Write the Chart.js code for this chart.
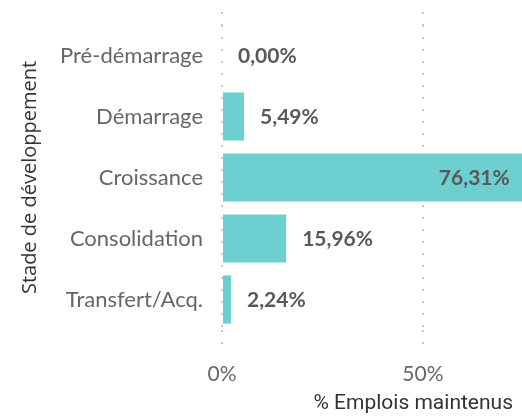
<!DOCTYPE html>
<html>
<head>
<meta charset="utf-8">
<script src="https://cdn.jsdelivr.net/npm/chart.js@4"></script>
<style>
  html, body { margin: 0; padding: 0; background: #fff; overflow: hidden; }
  .wrap { width: 522px; height: 416px; position: relative; }
</style>
</head>
<body>
<div class="wrap"><canvas id="chart"></canvas></div>
<script>
// data
const stades = ["Pré-démarrage", "Démarrage", "Croissance", "Consolidation", "Transfert/Acq."];
const emplois = [0.00, 5.49, 76.31, 15.96, 2.24];
const tickValues = [0, 50];

const fmt = v => v.toFixed(2).replace(".", ",") + "%";
const GRID = "#c8c8c8";

// dotted grid goes a bit above the plot area
const gridTop = {
  id: "gridTop",
  beforeDatasetsDraw(chart) {
    const ctx = chart.ctx;
    const x = chart.scales.x;
    ctx.save();
    ctx.strokeStyle = GRID;
    ctx.lineWidth = 2;
    ctx.setLineDash([2, 10]);
    tickValues.forEach(v => {
      const px = Math.round(x.getPixelForValue(v));
      ctx.beginPath();
      ctx.moveTo(px, 12);
      ctx.lineTo(px, chart.chartArea.top);
      ctx.stroke();
    });
    ctx.restore();
  }
};

// value labels
const valueLabels = {
  id: "valueLabels",
  afterDatasetsDraw(chart) {
    const ctx = chart.ctx;
    const meta = chart.getDatasetMeta(0);
    ctx.save();
    ctx.font = "bold 21px Lato";
    ctx.fillStyle = "#595959";
    ctx.textBaseline = "middle";
    meta.data.forEach((bar, i) => {
      const txt = fmt(emplois[i]);
      const w = ctx.measureText(txt).width;
      if (bar.x + 16 + w > chart.width) {
        ctx.textAlign = "right";
        ctx.fillText(txt, bar.x - 19, bar.y + 1);
      } else {
        ctx.textAlign = "left";
        ctx.fillText(txt, bar.x + 16, bar.y + 1);
      }
    });
    ctx.restore();
  }
};

new Chart(document.getElementById("chart"), {
  type: "bar",
  data: {
    labels: stades,
    datasets: [{
      data: emplois,
      backgroundColor: "#6dcfcf",
      categoryPercentage: 1,
      barPercentage: 0.79,
      clip: false
    }]
  },
  options: {
    indexAxis: "y",
    responsive: true,
    maintainAspectRatio: false,
    animation: false,
    layout: { padding: { top: 25, right: 9, left: 0, bottom: 0 } },
    plugins: { legend: { display: false }, tooltip: { enabled: false } },
    scales: {
      x: {
        min: 0,
        max: 72.4,
        afterBuildTicks: s => { s.ticks = tickValues.map(v => ({ value: v })); },
        afterFit: s => { s.height = 86; },
        grid: {
          color: GRID,
          lineWidth: 2,
          drawTicks: true,
          tickLength: 20,
          tickColor: GRID,
          tickBorderDash: [2, 10]
        },
        border: { display: false, dash: [2, 10] },
        ticks: {
          padding: 12,
          color: "#666",
          font: { family: "Lato", size: 21 },
          callback: v => v + "%"
        },
        title: {
          display: true,
          text: "% Emplois maintenus",
          align: "end",
          color: "#333",
          font: { family: "Roboto", size: 21 },
          padding: { top: 0, bottom: 0 }
        }
      },
      y: {
        grid: { display: false, drawTicks: true, tickLength: 19 },
        border: { display: false },
        ticks: {
          padding: 0,
          color: "#666",
          font: { family: "Lato", size: 22 }
        },
        title: {
          display: true,
          text: "Stade de développement",
          color: "#333",
          font: { family: "'Open Sans'", size: 20 },
          padding: { top: 18, bottom: 0 }
        },
        afterFit: s => { s.width = 222; }
      }
    }
  },
  plugins: [gridTop, valueLabels]
});
</script>
</body>
</html>
